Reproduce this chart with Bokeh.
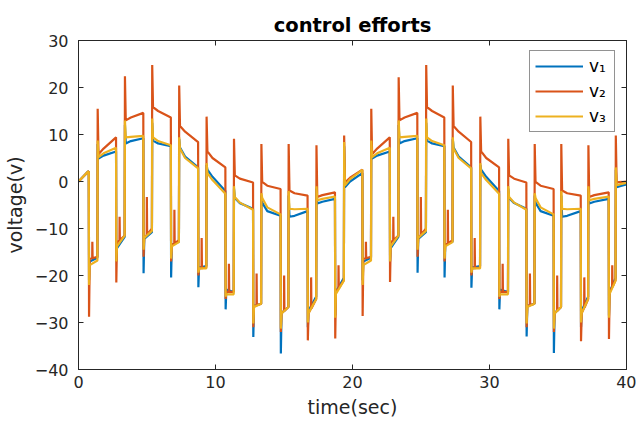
import numpy as np
from bokeh.plotting import figure
from bokeh.models import LinearAxis, Legend, LegendItem, FixedTicker, Range1d
from bokeh.embed import file_html
from bokeh.resources import INLINE

# ---------------- data ----------------
# switching instants (s): drop to the low state, rise to the high state
down_t = [0.75, 2.74, 4.73, 6.74, 8.73, 10.72, 12.74, 14.75, 16.72, 18.72,
          20.72, 22.72, 24.73, 26.70, 28.66, 30.70, 32.69, 34.68, 36.66, 38.70]
up_t = [1.38, 3.37, 5.36, 7.33, 9.33, 11.33, 13.33, 15.32, 17.35, 19.37,
        21.35, 23.35, 25.36, 27.30, 29.31, 31.35, 33.28, 35.22, 37.20, 39.20]
t_end = 40.0
init_t = [0.0, 0.70]
init_v = [0.0, 2.1]

# v1 (blue)
v1_lo_spike = [-21.0, -17.0, -19.5, -20.4, -22.5, -27.2, -33.1, -36.6, -31.0, -28.5,
               -21.0, -17.0, -19.4, -20.4, -22.6, -27.2, -33.0, -36.5, -31.0, -28.5]
v1_lo_start = [-17.0, -14.2, -12.2, -13.5, -18.3, -23.0, -26.5, -28.0, -27.5, -23.5,
               -17.0, -14.2, -12.2, -13.5, -18.3, -23.0, -26.5, -28.0, -27.5, -23.5]
v1_lo_end = [-16.2, -11.8, -10.8, -12.8, -18.0, -23.5, -26.0, -26.7, -24.5, -20.5,
             -16.2, -11.8, -10.8, -12.8, -18.0, -23.5, -26.0, -26.7, -24.5, -20.5]
v1_hi_spike = [8.0, 12.0, 12.5, 9.0, 3.5, -1.5, -3.0, -3.0, -1.5, 7.5,
               8.0, 12.0, 12.5, 9.0, 3.5, -1.5, -3.0, -3.0, -1.5, 2.5]
v1_hi_start = [4.9, 8.1, 8.7, 7.2, 2.5, -3.5, -4.5, -7.5, -4.7, -1.2,
               4.9, 8.1, 8.7, 7.2, 2.5, -3.5, -4.5, -7.5, -4.7, -1.2]
v1_hi_mid = [5.5, 8.6, 8.1, 5.3, 1.0, -4.6, -6.3, -7.3, -4.3, 0.0,
             5.5, 8.6, 8.1, 5.3, 1.0, -4.6, -6.3, -7.3, -4.3, -0.9]
v1_hi_end = [6.4, 9.2, 7.5, 3.0, -2.0, -5.8, -7.3, -6.3, -3.7, 1.8,
             6.4, 9.2, 7.5, 3.0, -2.0, -5.8, -7.3, -6.3, -3.7, -0.6]

# v2 (orange)
v2_lo_spike = [-28.8, -21.5, -16.0, -17.0, -20.0, -25.0, -31.0, -32.0, -33.8, -33.4,
               -28.6, -21.4, -16.0, -17.0, -20.0, -25.0, -31.0, -32.0, -34.0, -33.5]
v2_lo_start = [-16.5, -13.0, -12.0, -13.5, -18.5, -23.5, -26.5, -28.0, -28.0, -23.5,
               -16.5, -13.0, -12.0, -13.5, -18.5, -23.5, -26.5, -28.0, -28.0, -23.5]
v2_lo_notch = [-12.8, -7.5, -3.3, -6.0, -12.0, -17.5, -19.6, -20.0, -20.4, -17.8,
               -12.8, -7.5, -3.3, -6.0, -12.0, -17.5, -19.6, -20.0, -20.4, -17.8]
v2_lo_end = [-16.0, -11.5, -10.0, -12.5, -18.3, -23.5, -26.0, -26.7, -25.0, -21.0,
             -16.0, -11.5, -10.0, -12.5, -18.3, -23.5, -26.0, -26.7, -25.0, -21.0]
v2_hi_spike = [15.5, 22.4, 24.8, 20.4, 13.8, 9.1, 8.0, 8.0, 7.7, 9.8,
               15.5, 22.2, 24.8, 20.4, 13.8, 9.1, 8.0, 8.0, 7.7, 9.8]
v2_hi_start = [5.8, 13.0, 15.8, 11.8, 6.4, 1.3, -0.1, -1.9, -3.3, -0.2,
               5.8, 13.0, 15.8, 11.8, 6.4, 1.3, -0.1, -1.9, -3.3, -0.2]
v2_hi_mid = [7.0, 13.6, 15.0, 10.6, 5.0, 0.6, -0.9, -2.5, -2.9, 0.8,
             7.0, 13.6, 15.0, 10.6, 5.0, 0.6, -0.9, -2.5, -2.9, -0.1]
v2_hi_end = [9.4, 14.6, 13.6, 8.4, 3.0, -0.2, -1.6, -3.0, -2.3, 2.5,
             9.4, 14.6, 13.6, 8.4, 3.0, -0.2, -1.6, -3.0, -2.3, 0.0]

# v3 (yellow)
v3_lo_spike = [-22.0, -17.0, -14.5, -16.4, -19.4, -24.5, -30.2, -31.3, -30.0, -29.0,
               -22.0, -17.0, -14.5, -16.4, -19.4, -24.5, -30.2, -31.3, -30.0, -29.0]
v3_lo_start = [-17.8, -13.8, -12.0, -13.8, -18.5, -24.0, -26.7, -28.1, -28.0, -23.9,
               -17.8, -13.8, -12.0, -13.8, -18.5, -24.0, -26.7, -28.1, -28.0, -23.9]
v3_lo_end = [-16.8, -11.5, -10.5, -12.9, -18.5, -24.0, -26.0, -26.7, -25.0, -21.1,
             -16.8, -11.5, -10.5, -12.9, -18.5, -24.0, -26.0, -26.7, -25.0, -21.1]
v3_hi_spike = [8.7, 13.0, 13.4, 9.4, 3.9, -1.0, -2.5, -2.0, -1.0, 8.4,
               8.7, 13.0, 13.4, 9.4, 3.9, -1.0, -2.5, -2.0, -1.0, 3.0]
v3_hi_start = [5.2, 9.4, 9.4, 7.0, 1.8, -3.3, -3.5, -5.8, -4.0, -0.8,
               5.2, 9.4, 9.4, 7.0, 1.8, -3.3, -3.5, -5.8, -4.0, -0.8]
v3_hi_mid = [6.0, 9.5, 8.6, 5.0, 0.3, -4.5, -5.5, -5.9, -3.7, 0.5,
             6.0, 9.5, 8.6, 5.0, 0.3, -4.5, -5.5, -5.9, -3.7, -0.5]
v3_hi_end = [7.2, 9.7, 7.7, 2.8, -2.6, -6.0, -7.0, -5.8, -3.2, 2.5,
             7.2, 9.7, 7.7, 2.8, -2.6, -6.0, -7.0, -5.8, -3.2, -0.3]

x_ticks = [0, 10, 20, 30, 40]
y_ticks = [-40, -30, -20, -10, 0, 10, 20, 30]
labels = ["v\u2081", "v\u2082", "v\u2083"]
colors = ["#0072BD", "#D95319", "#EDB120"]


def build(lo_spike, lo_start, lo_end, hi_spike, hi_start, hi_mid, hi_end, lo_notch=None):
    ts = list(init_t)
    vs = list(init_v)
    prev = init_v[-1]
    n = len(down_t)
    for k in range(n):
        d, u = down_t[k], up_t[k]
        nd = down_t[k + 1] if k + 1 < n else t_end
        ts += [d, d + 0.02, d + 0.07]
        vs += [prev, lo_spike[k], lo_start[k]]
        if lo_notch is not None:
            tn = d + 0.25
            f = (tn - (d + 0.07)) / (u - (d + 0.07))
            base = lo_start[k] + f * (lo_end[k] - lo_start[k])
            ts += [tn, tn + 0.01, tn + 0.03]
            vs += [base, lo_notch[k], base]
        ts += [u, u + 0.02, u + 0.08, min(u + 0.45, nd - 0.05), nd]
        vs += [lo_end[k], hi_spike[k], hi_start[k], hi_mid[k], hi_end[k]]
        prev = hi_end[k]
    return ts, vs


series = [
    build(v1_lo_spike, v1_lo_start, v1_lo_end, v1_hi_spike, v1_hi_start, v1_hi_mid, v1_hi_end),
    build(v2_lo_spike, v2_lo_start, v2_lo_end, v2_hi_spike, v2_hi_start, v2_hi_mid, v2_hi_end,
          lo_notch=v2_lo_notch),
    build(v3_lo_spike, v3_lo_start, v3_lo_end, v3_hi_spike, v3_hi_start, v3_hi_mid, v3_hi_end),
]

FONT = "DejaVu Sans"
AX = "#262626"

p = figure(width=636, height=421, x_range=Range1d(0, 40), y_range=Range1d(-40, 30),
           output_backend="svg", toolbar_location=None,
           min_border_left=77, min_border_right=10, min_border_top=40, min_border_bottom=52,
           title="control efforts")
p.title.align = "center"
p.title.text_font = FONT
p.title.text_font_size = "19.5px"
p.title.text_font_style = "bold"
p.title.text_color = "black"
p.title.standoff = 8
p.grid.visible = False
p.outline_line_color = AX
p.outline_line_width = 1
p.background_fill_color = "white"
p.border_fill_color = "white"

renderers = []
for (ts, vs), c in zip(series, colors):
    r = p.line(ts, vs, line_color=c, line_width=2.2)
    renderers.append(r)

for ax, tk in ((p.xaxis[0], x_ticks), (p.yaxis[0], y_ticks)):
    ax.ticker = FixedTicker(ticks=tk)
    ax.major_tick_in = 5
    ax.major_tick_out = 0
    ax.minor_tick_line_color = None
    ax.axis_line_color = AX
    ax.major_tick_line_color = AX
    ax.major_label_text_font = FONT
    ax.major_label_text_font_size = "16px"
    ax.major_label_text_color = AX
    ax.axis_label_text_font = FONT
    ax.axis_label_text_font_size = "19px"
    ax.axis_label_text_font_style = "normal"
    ax.axis_label_text_color = AX

p.xaxis[0].axis_label = "time(sec)"
p.xaxis[0].major_label_standoff = 6
p.xaxis[0].axis_label_standoff = 5
p.yaxis[0].axis_label = "voltage(v)"
p.yaxis[0].major_label_standoff = 10
p.yaxis[0].axis_label_standoff = 6

# box ticks on the top and right edges (no labels drawn)
top = LinearAxis(ticker=FixedTicker(ticks=x_ticks), major_tick_in=5, major_tick_out=0,
                 minor_tick_line_color=None, axis_line_color=AX, major_tick_line_color=AX,
                 major_label_overrides={t: "" for t in x_ticks},
                 major_label_text_color=None, major_label_text_font_size="1px",
                 major_label_standoff=0)
right = LinearAxis(ticker=FixedTicker(ticks=y_ticks), major_tick_in=5, major_tick_out=0,
                   minor_tick_line_color=None, axis_line_color=AX, major_tick_line_color=AX,
                   major_label_overrides={t: "" for t in y_ticks},
                   major_label_text_color=None, major_label_text_font_size="1px",
                   major_label_standoff=0)
p.add_layout(top, "above")
p.add_layout(right, "right")

legend = Legend(items=[LegendItem(label=l, renderers=[r]) for l, r in zip(labels, renderers)],
                location=(451, 237), margin=0, padding=5, spacing=5,
                glyph_width=48, glyph_height=20, label_height=20, label_standoff=6,
                label_text_font=FONT, label_text_font_size="17px", label_text_color="black",
                border_line_color=AX, border_line_width=1, background_fill_color="white",
                background_fill_alpha=1.0)
p.add_layout(legend)

open("out.html", "w").write(file_html(p, INLINE))
